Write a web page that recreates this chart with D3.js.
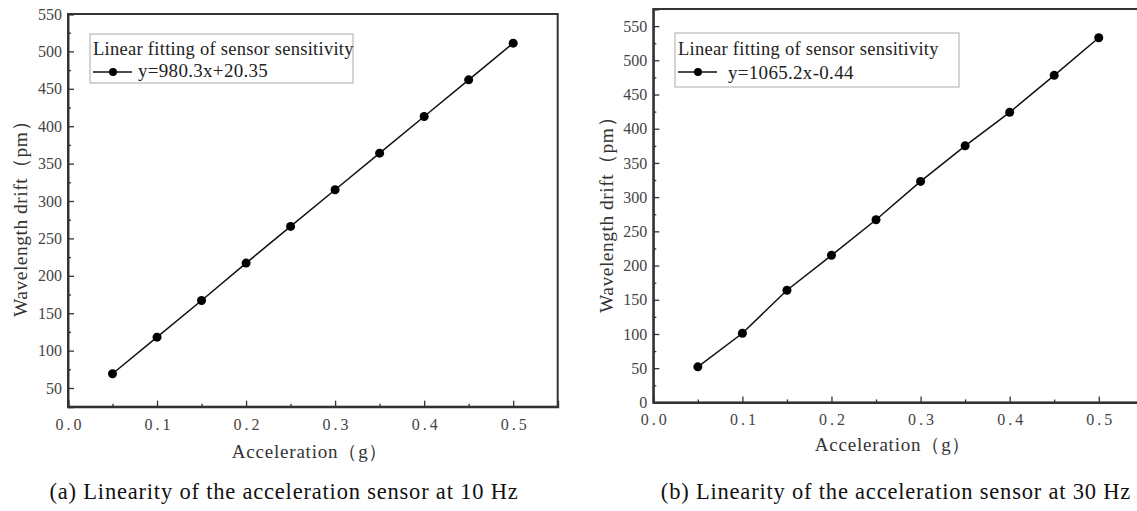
<!DOCTYPE html>
<html><head><meta charset="utf-8">
<script src="https://cdn.jsdelivr.net/npm/d3@7"></script>
<style>body{margin:0;background:#fff}svg{display:block}
text{font-family:"Liberation Serif","Times New Roman",Tinos,"DejaVu Serif",serif}</style>
</head><body>
<svg id="c" width="1137" height="511"></svg>
<script>
const accel = [0.05,0.10,0.15,0.20,0.25,0.30,0.35,0.40,0.45,0.50];
const drift10 = [69,118,167,217,266,315,364,413,462,511];
const drift30 = [52,101,164,215,267,323,375,424,478,533];
const xTicks = [0.0,0.1,0.2,0.3,0.4,0.5];
const yTicks10 = [50,100,150,200,250,300,350,400,450,500,550];
const yTicks30 = [0,50,100,150,200,250,300,350,400,450,500,550];
const legendTitle = "Linear fitting of sensor sensitivity";
const fit10 = "y=980.3x+20.35";
const fit30 = "y=1065.2x-0.44";
const xTitle = "Acceleration（g）";
const yTitle = "Wavelength drift（pm）";
const cap10 = "(a) Linearity of the acceleration sensor at 10 Hz";
const cap30 = "(b) Linearity of the acceleration sensor at 30 Hz";

const svg = d3.select("#c");

function panel(o){
  const g = svg.append("g");
  const x = d3.scaleLinear().domain([0,0.55]).range([o.left,o.right]);
  const y = d3.scaleLinear().domain(o.ydom).range([o.bottom,o.top]);
  g.append("rect").attr("x",o.left).attr("y",o.top)
    .attr("width",o.right-o.left).attr("height",o.bottom-o.top)
    .attr("fill","none").attr("stroke","#333").attr("stroke-width",2);
  const yMinor = d3.range(o.ydom[0], o.ydom[1]+0.1, 25).filter(v=>!o.yticks.includes(v));
  g.append("g").attr("transform",`translate(${o.left},0)`)
    .call(d3.axisLeft(y).tickValues(o.yticks).tickSize(-6).tickPadding(6).tickFormat(d3.format("d")));
  g.append("g").attr("transform",`translate(${o.left},0)`)
    .call(d3.axisLeft(y).tickValues(yMinor).tickSize(-3).tickFormat(""))
    .call(a=>a.select(".domain").remove());
  const xMinor = [0.05,0.15,0.25,0.35,0.45];
  const xa = g.append("g").attr("transform",`translate(0,${o.bottom})`)
    .call(d3.axisBottom(x).tickValues(xTicks).tickSize(-6).tickPadding(o.xpad).tickFormat(d3.format(".1f")));
  g.append("g").attr("transform",`translate(0,${o.bottom})`)
    .call(d3.axisBottom(x).tickValues(xMinor).tickSize(-3).tickFormat(""))
    .call(a=>a.select(".domain").remove());
  g.selectAll(".domain").attr("stroke","#333").attr("stroke-width",2);
  g.selectAll(".tick line").attr("stroke","#333").attr("stroke-width",1.3);
  g.selectAll(".tick text").attr("font-family",null).attr("font-size",16).attr("fill","#444");
  xa.selectAll(".tick text").attr("letter-spacing","3px").attr("dx","1.5px");
  const pts = accel.map((a,i)=>[a,o.data[i]]);
  g.append("path").datum(pts).attr("fill","none").attr("stroke","#111").attr("stroke-width",1.5)
    .attr("d",d3.line().x(d=>x(d[0])).y(d=>y(d[1])));
  g.selectAll("circle.pt").data(pts).join("circle").attr("class","pt")
    .attr("cx",d=>x(d[0])).attr("cy",d=>y(d[1])).attr("r",4.5).attr("fill","#000");
  const L = o.legend;
  g.append("rect").attr("x",L.x).attr("y",L.y).attr("width",L.w).attr("height",L.h)
    .attr("fill","#fff").attr("stroke","#aaa").attr("stroke-width",1);
  g.append("text").attr("x",L.x+3).attr("y",L.y+L.t1).attr("font-size",18.5).attr("letter-spacing","0.28px")
    .attr("fill","#222").text(legendTitle);
  g.append("line").attr("x1",L.x+3).attr("x2",L.x+42).attr("y1",L.y+L.ly).attr("y2",L.y+L.ly)
    .attr("stroke","#111").attr("stroke-width",1.5);
  g.append("circle").attr("cx",L.x+23).attr("cy",L.y+L.ly).attr("r",4).attr("fill","#000");
  g.append("text").attr("x",L.x+L.tx).attr("y",L.y+L.t2).attr("font-size",19).attr("letter-spacing","0.3px")
    .attr("fill","#222").text(o.fit);
  g.append("text").attr("x",o.xt[0]).attr("y",o.xt[1]).attr("text-anchor","middle")
    .attr("font-size",19).attr("letter-spacing","0.8px").attr("fill","#333").text(xTitle);
  g.append("text").attr("transform",`translate(${o.yt[0]},${o.yt[1]}) rotate(-90)`).attr("text-anchor","middle")
    .attr("font-size",19.5).attr("letter-spacing","0.5px").attr("fill","#333").text(yTitle);
  g.append("text").attr("x",o.cap[0]).attr("y",o.cap[1]).attr("text-anchor","middle")
    .attr("font-size",22.5).attr("letter-spacing","0.8px").attr("fill","#111").text(o.caption);
}

panel({left:68,right:557.7,top:14,bottom:406.7,ydom:[25,550],yticks:yTicks10,data:drift10,xpad:12,
  legend:{x:90,y:34,w:263,h:49,t1:21,ly:38,t2:43,tx:48},fit:fit10,xt:[310,458],yt:[27,214],cap:[284,499],caption:cap10});
panel({left:653.3,right:1143.3,top:9,bottom:402.4,ydom:[0,575],yticks:yTicks30,data:drift30,xpad:11,
  legend:{x:675,y:33,w:284,h:54,t1:22,ly:39,t2:46,tx:53},fit:fit30,xt:[893,451],yt:[613,210],cap:[896,499],caption:cap30});
</script>
</body></html>
